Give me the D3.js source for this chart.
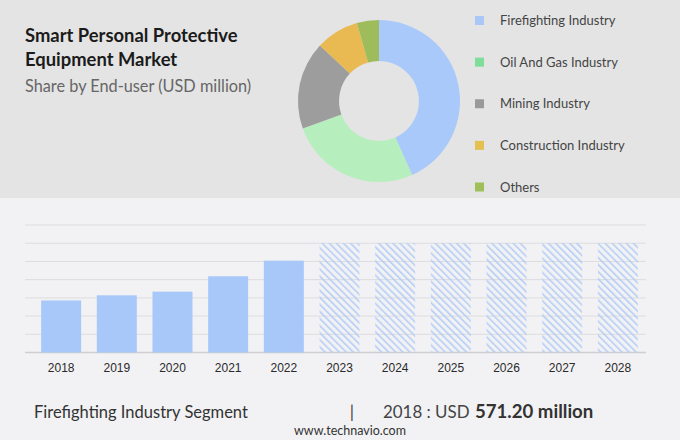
<!DOCTYPE html>
<html>
<head>
<meta charset="utf-8">
<script src="https://cdn.jsdelivr.net/npm/d3@7"></script>
<style>
  html, body { margin: 0; padding: 0; background: #f2f2f4; }
  svg { display: block; }
</style>
</head>
<body>
<svg id="chart" width="680" height="440"></svg>
<script>
// ---- data ----
const segments = ["Firefighting Industry", "Oil And Gas Industry", "Mining Industry", "Construction Industry", "Others"];
const shares = [43.3, 26.2, 17.5, 8.6, 4.4];
const sliceColors = ["#a9c9fb", "#b6efbd", "#9d9d9d", "#e9ba52", "#9fbc5c"];
const legendColors = ["#a9c8f8", "#7fdd98", "#9a9a9a", "#e3c050", "#9fbf5b"];

const years = ["2018", "2019", "2020", "2021", "2022", "2023", "2024", "2025", "2026", "2027", "2028"];
const values = [571.2, 628, 668, 837, 1008, 1200, 1200, 1200, 1200, 1200, 1200];
const forecast = [false, false, false, false, false, true, true, true, true, true, true];
const yTicks = [0, 200, 400, 600, 800, 1000, 1200, 1400];

const titleLines = ["Smart Personal Protective", "Equipment Market"];
const subtitle = "Share by End-user (USD million)";
const footerSegment = "Firefighting Industry Segment";
const footerYear = "2018 : USD";
const footerValue = "571.20 million";
const site = "www.technavio.com";

// ---- drawing ----
const svg = d3.select("#chart");
const W = 680, H = 440;

svg.append("rect").attr("x", 0).attr("y", 0).attr("width", W).attr("height", H).attr("fill", "#f2f2f4");
svg.append("rect").attr("x", 0).attr("y", 0).attr("width", W).attr("height", 198).attr("fill", "#e4e4e4");

// hatch pattern
const defs = svg.append("defs");
const pat = defs.append("pattern")
  .attr("id", "hatch")
  .attr("patternUnits", "userSpaceOnUse")
  .attr("width", 5).attr("height", 5)
  .attr("patternTransform", "rotate(-45)");
pat.append("line")
  .attr("x1", 0.8).attr("y1", 0).attr("x2", 0.8).attr("y2", 5)
  .attr("stroke", "#adc9f6").attr("stroke-width", 1.4);

// title
const title = svg.append("text")
  .attr("x", 25).attr("y", 41.7)
  .attr("font-family", "Lato, 'Open Sans', sans-serif")
  .attr("font-weight", "bold").attr("font-size", 18.4)
  .attr("fill", "#1b1b1b");
titleLines.forEach((t, i) => {
  title.append("tspan").attr("x", 25).attr("y", 41.7 + i * 24).text(t);
});
svg.append("text")
  .attr("x", 25).attr("y", 91.7)
  .attr("font-family", "Lato, 'Open Sans', sans-serif")
  .attr("font-size", 16.3).attr("fill", "#666")
  .text(subtitle);

// donut
const pie = d3.pie().sort(null).value(d => d);
const arc = d3.arc().innerRadius(40).outerRadius(81);
const donut = svg.append("g").attr("transform", "translate(379,101)");
donut.selectAll("path")
  .data(pie(shares))
  .join("path")
  .attr("d", arc)
  .attr("fill", (d, i) => sliceColors[i]);

// legend
const legend = svg.append("g");
const legY = d3.scalePoint().domain(segments).range([20.5, 187]);
segments.forEach((s, i) => {
  const y = legY(s);
  legend.append("rect")
    .attr("x", 475).attr("y", y - 4.5).attr("width", 9).attr("height", 9)
    .attr("fill", legendColors[i]);
  legend.append("text")
    .attr("x", 500).attr("y", y)
    .attr("dy", "0.35em")
    .attr("font-family", "Lato, 'Open Sans', sans-serif")
    .attr("font-size", 13).attr("fill", "#444")
    .text(s);
});

// bar chart
const x = d3.scaleBand().domain(years).range([33, 646]).paddingInner(0.2815).paddingOuter(0.146);
const y = d3.scaleLinear().domain([0, 1400]).range([352.5, 225]);

const grid = svg.append("g");
grid.selectAll("line")
  .data(yTicks)
  .join("line")
  .attr("x1", 25).attr("x2", 646)
  .attr("y1", d => y(d)).attr("y2", d => y(d))
  .attr("stroke", d => d === 0 ? "#cfcfcf" : "#dddddf")
  .attr("stroke-width", d => d === 0 ? 1.5 : 1);

svg.append("g").selectAll("rect")
  .data(years)
  .join("rect")
  .attr("x", d => x(d))
  .attr("width", x.bandwidth())
  .attr("y", (d, i) => y(values[i]))
  .attr("height", (d, i) => y(0) - y(values[i]))
  .attr("fill", (d, i) => forecast[i] ? "url(#hatch)" : "#a8c8fa");

const xAxis = svg.append("g")
  .attr("transform", `translate(0,${y(0)})`)
  .call(d3.axisBottom(x).tickSize(0).tickPadding(11));
xAxis.select(".domain").remove();
xAxis.selectAll("text")
  .attr("font-family", "'Liberation Sans', Arial, sans-serif")
  .attr("font-size", 12).attr("fill", "#2a2a2a");

// footer
svg.append("text")
  .attr("x", 34).attr("y", 417.5)
  .attr("font-family", "Lato, 'Open Sans', sans-serif")
  .attr("font-size", 16.5).attr("fill", "#333")
  .text(footerSegment);
svg.append("text")
  .attr("x", 352).attr("y", 417.5)
  .attr("text-anchor", "middle")
  .attr("font-family", "Lato, 'Open Sans', sans-serif")
  .attr("font-size", 17).attr("fill", "#444")
  .text("|");
svg.append("text")
  .attr("x", 383).attr("y", 417.5)
  .attr("font-family", "Lato, 'Open Sans', sans-serif")
  .attr("font-size", 16.9).attr("fill", "#444")
  .text(footerYear);
svg.append("text")
  .attr("x", 475).attr("y", 417.5)
  .attr("font-family", "Lato, 'Open Sans', sans-serif")
  .attr("font-weight", "bold")
  .attr("font-size", 18.6).attr("fill", "#333")
  .text(footerValue);
svg.append("text")
  .attr("x", 350).attr("y", 435)
  .attr("text-anchor", "middle")
  .attr("font-family", "Lato, 'Open Sans', sans-serif")
  .attr("font-size", 12.5).attr("fill", "#333")
  .text(site);
</script>
</body>
</html>
